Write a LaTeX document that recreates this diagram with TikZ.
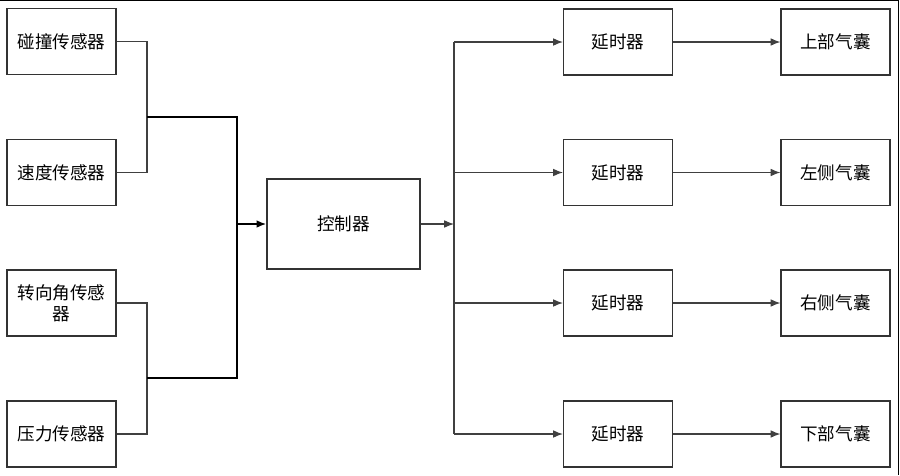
\documentclass[tikz,border=0pt]{standalone}
\usepackage{fontspec}
\setmainfont{Noto Sans CJK SC}
\usetikzlibrary{arrows.meta}
\begin{document}
\begin{tikzpicture}
			[x=0.025cm,y=-0.025cm,
			font=\fontsize{12.5}{15}\selectfont,
			sensor/.style={rectangle,draw=black!80,line width=0.8pt,minimum width=2.725cm,minimum height=1.65cm,inner sep=1pt,align=center},
			ctrlbox/.style={rectangle,draw=black!80,line width=0.8pt,minimum width=3.825cm,minimum height=2.25cm},
			wire/.style={draw=black!75,line width=0.8pt},
			bus/.style={draw=black,line width=1.4pt},
			tip/.style={-{Latex[length=7pt,width=5.5pt]}}]
			\useasboundingbox (0,0) rectangle (900,475);
			\draw[line width=1.2pt] (0,0.6) -- (898.6,0.6) -- (898.6,475);
			\path node (s1) at (61.5,41.5)  [sensor] {碰撞传感器}
				  node (s2) at (61.5,172.5) [sensor] {速度传感器}
				  node (s3) at (61.5,303)   [sensor] {转向角传感\\器}
				  node (s4) at (61.5,434)   [sensor] {压力传感器}
				  node (ctrl) at (343.5,224) [ctrlbox] {控制器}
				  node (d1) at (618,42)  [sensor] {延时器}
				  node (d2) at (618,172.5) [sensor] {延时器}
				  node (d3) at (618,303) [sensor] {延时器}
				  node (d4) at (618,434) [sensor] {延时器}
				  node (a1) at (835.5,42)  [sensor] {上部气囊}
				  node (a2) at (835.5,172.5) [sensor] {左侧气囊}
				  node (a3) at (835.5,303) [sensor] {右侧气囊}
				  node (a4) at (835.5,434) [sensor] {下部气囊};
			\coordinate (ja) at (147,117);
			\coordinate (jb) at (147,378);
			\coordinate (ta) at (237,117);
			\coordinate (tb) at (237,378);
			\coordinate (out) at (454,224);
			% sensors to controller
			\draw[wire] (s1.east) -| (ja) |- (s2.east);
			\draw[wire] (s3.east) -| (jb) |- (s4.east);
			\draw[bus] (ja) -- (ta) -- (tb) -- (jb);
			\draw[bus,tip] (ta |- ctrl.west) -- (ctrl.west);
			% controller to delays and airbags
			\draw[wire,tip] (ctrl.east) -- (out);
			\draw[wire] (out |- d1.west) -- (out |- d4.west);
			\foreach \i in {1,...,4}{
				\draw[wire,tip] (out |- d\i.west) -- (d\i.west);
				\draw[wire,tip] (d\i.east) -- (a\i.west);
			}
		\end{tikzpicture}
\end{document}
